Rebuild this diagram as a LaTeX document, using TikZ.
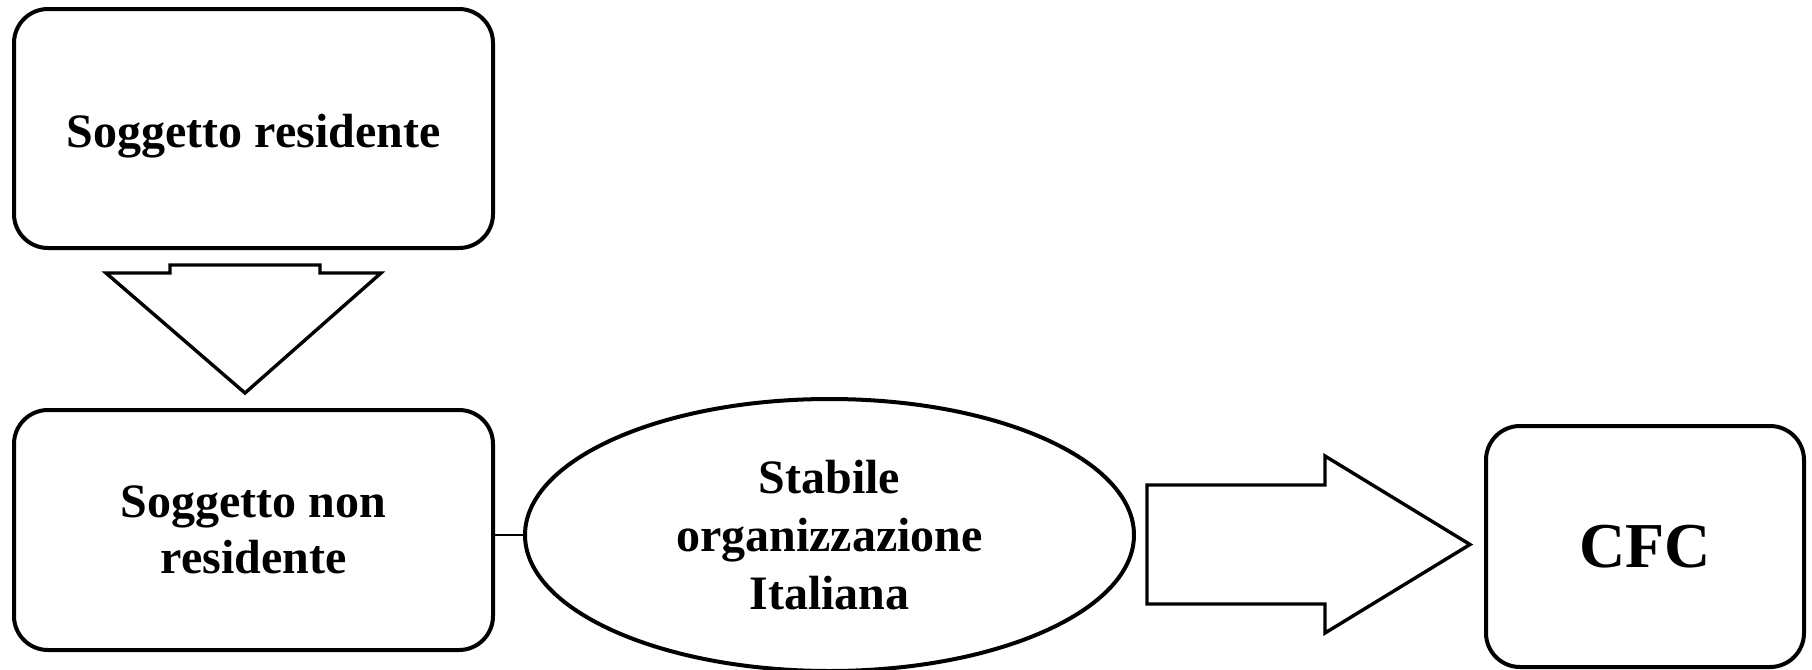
\documentclass[tikz,border=0pt]{standalone}
\usepackage{fontspec}
\setmainfont{Liberation Serif}
\usetikzlibrary{shapes.geometric}
\tikzset{
  rbox/.style={draw, line width=2pt, rounded corners=17pt, align=center, inner sep=0pt,
    font=\fontsize{24}{28}\selectfont\bfseries},
  ell/.style={draw, ellipse, line width=2pt, align=center, inner sep=0pt,
    font=\fontsize{24}{29}\selectfont\bfseries},
  blockarrow/.style={draw, line width=1.7pt, fill=white},
  link/.style={draw, line width=0.9pt}
}
\begin{document}
\begin{tikzpicture}[x=0.5pt, y=-0.5pt]
\useasboundingbox (0,0) rectangle (1812,670);
\node[rbox, minimum width=239.5pt, minimum height=119.5pt, text height=24pt, text depth=5pt] (res) at (253.5,128.5) {Soggetto residente};
\node[rbox, minimum width=239.5pt, minimum height=120pt] (nonres) at (253.5,530) {Soggetto non\\residente};
\node[ell, minimum width=304.5pt, minimum height=136pt] (so) at (829.5,535) {Stabile\\organizzazione\\Italiana};
\node[rbox, minimum width=159pt, minimum height=120.5pt, font=\fontsize{32}{36}\selectfont\bfseries] (cfc) at (1645,546.5) {CFC};
% connector
\draw[link] (so.west) -- (so.west -| nonres.east);
% down block arrow
\draw[blockarrow] (170,265) -- (320,265) -- (320,273) -- (381,273) -- (245,393) -- (106,273) -- (170,273) -- cycle;
% right block arrow
\draw[blockarrow] (1147,485) -- (1325,485) -- (1325,456) -- (1470,544.5) -- (1325,633) -- (1325,604) -- (1147,604) -- cycle;
\end{tikzpicture}
\end{document}
